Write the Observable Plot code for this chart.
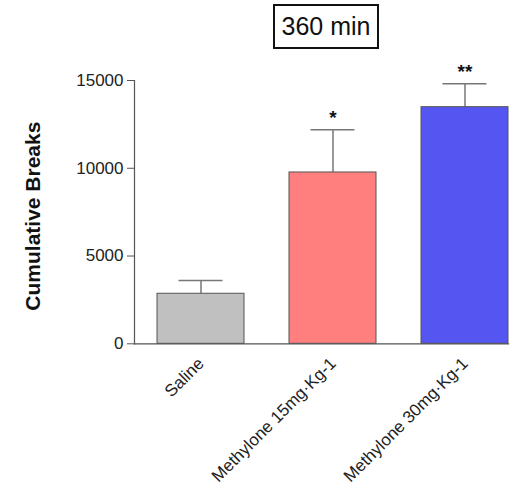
<!DOCTYPE html>
<html>
<head>
<meta charset="utf-8">
<script src="https://cdn.jsdelivr.net/npm/d3@7"></script>
<script src="https://cdn.jsdelivr.net/npm/@observablehq/plot@0.6"></script>
<style>
  html, body { margin: 0; padding: 0; background: #fff; }
  #wrap { position: relative; width: 511px; height: 486px; font-family: "Liberation Sans", Arial, sans-serif; }
  #title {
    position: absolute; left: 273px; top: 4px; width: 102px; height: 41px;
    border: 2.5px solid #111; box-sizing: content-box;
    font-size: 25px; color: #111; text-align: center; line-height: 41px;
  }
  #chart { position: absolute; left: 0; top: 0; }
</style>
</head>
<body>
<div id="wrap">
  <div id="chart"></div>
  <div id="title">360 min</div>
</div>
<script>
// Cumulative breaks after 360 min, mean ± SEM per treatment group
const groups = ["Saline", "Methylone 15mg·Kg-1", "Methylone 30mg·Kg-1"];
const means = [2850, 9760, 13480];
const sems = [760, 2430, 1330];
const stars = ["", "*", "**"];
const fills = ["#c0c0c0", "#ff7f7f", "#5555f2"];
const yTicks = [0, 5000, 10000, 15000];

const rows = groups.map((g, i) => ({group: g, mean: means[i], hi: means[i] + sems[i], star: stars[i]}));

const chart = Plot.plot({
  width: 511,
  height: 486,
  marginTop: 80,
  marginBottom: 142.7,
  marginLeft: 134,
  marginRight: 3,
  style: {fontFamily: "'Liberation Sans', Arial, sans-serif", background: "#fff"},
  x: {domain: groups, paddingInner: 0.34, paddingOuter: 0.086, align: 1, label: null},
  y: {domain: [0, 15000], label: null},
  color: {domain: groups, range: fills},
  marks: [
    // error bars
    Plot.ruleX(rows, {x: "group", y1: "mean", y2: "hi", stroke: "#777", strokeWidth: 1.5}),
    Plot.tickY(rows, {x: "group", y: "hi", stroke: "#777", strokeWidth: 1.5, insetLeft: 21.5, insetRight: 21.5}),
    Plot.barY(rows, {x: "group", y: "mean", fill: "group", stroke: "#555", strokeWidth: 1}),
    Plot.text(rows, {x: "group", y: "hi", text: "star", dy: -12, fontSize: 19, fontWeight: "bold", fill: "#111"}),
    Plot.frame({anchor: "left", stroke: "#555", strokeWidth: 1.2}),
    Plot.frame({anchor: "bottom", stroke: "#555", strokeWidth: 1.2}),
    Plot.axisY({ticks: yTicks, tickFormat: d => String(d), tickSize: 7, tickPadding: 4,
      fontSize: 17, stroke: "#555", color: "#222", label: null}),
    Plot.axisX({tickSize: 0, tickPadding: 17, tickRotate: -45, fontSize: 17, color: "#222", label: null}),
    Plot.text(["Cumulative Breaks"], {frameAnchor: "left", textAnchor: "middle", rotate: -90, dx: -101, dy: 4,
      fontSize: 21, fontWeight: "bold", fill: "#111"})
  ]
});
document.getElementById("chart").appendChild(chart);
</script>
</body>
</html>
